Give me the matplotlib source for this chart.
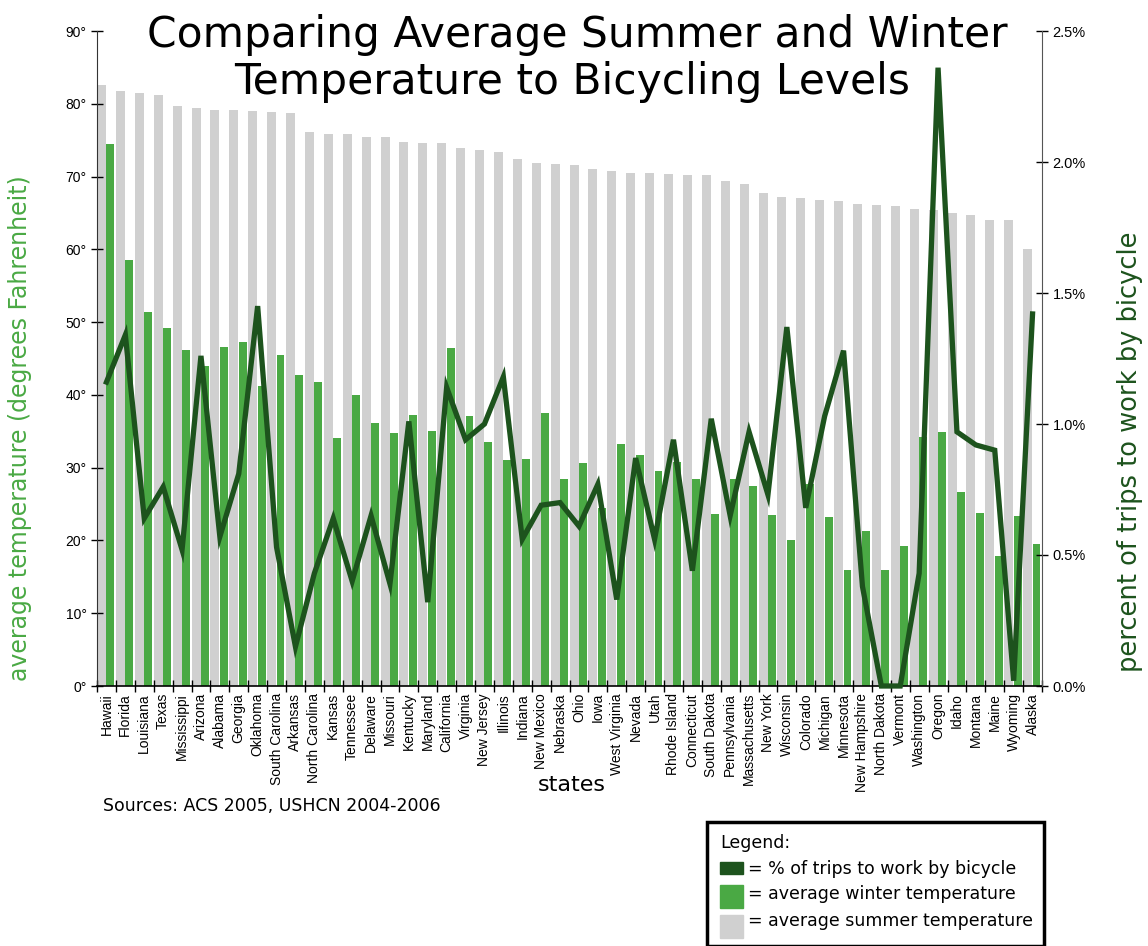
import matplotlib
matplotlib.use("Agg")
import matplotlib.pyplot as plt
from matplotlib.patches import Rectangle
import numpy as np

states = ["Hawaii", "Florida", "Louisiana", "Texas", "Mississippi", "Arizona", "Alabama",
          "Georgia", "Oklahoma", "South Carolina", "Arkansas", "North Carolina", "Kansas",
          "Tennessee", "Delaware", "Missouri", "Kentucky", "Maryland", "California",
          "Virginia", "New Jersey", "Illinois", "Indiana", "New Mexico", "Nebraska", "Ohio",
          "Iowa", "West Virginia", "Nevada", "Utah", "Rhode Island", "Connecticut",
          "South Dakota", "Pennsylvania", "Massachusetts", "New York", "Wisconsin",
          "Colorado", "Michigan", "Minnesota", "New Hampshire", "North Dakota", "Vermont",
          "Washington", "Oregon", "Idaho", "Montana", "Maine", "Wyoming", "Alaska"]

summer_temp = [82.6, 81.7, 81.5, 81.2, 79.7, 79.4, 79.2, 79.2, 79.0, 78.9, 78.7, 76.1, 75.9,
               75.9, 75.4, 75.4, 74.8, 74.6, 74.6, 73.9, 73.6, 73.4, 72.4, 71.9, 71.7, 71.6,
               71.0, 70.8, 70.5, 70.5, 70.3, 70.2, 70.2, 69.4, 69.0, 67.7, 67.2, 67.1, 66.8,
               66.7, 66.2, 66.1, 66.0, 65.6, 65.4, 65.0, 64.7, 64.0, 64.0, 60.1]

winter_temp = [74.5, 58.5, 51.4, 49.2, 46.1, 44.0, 46.6, 47.2, 41.2, 45.5, 42.7, 41.8, 34.1,
               40.0, 36.1, 34.8, 37.3, 35.0, 46.4, 37.1, 33.5, 31.0, 31.2, 37.5, 28.5, 30.7,
               24.5, 33.3, 31.8, 29.6, 30.8, 28.4, 23.7, 28.5, 27.5, 23.5, 20.1, 27.7, 23.2,
               15.9, 21.3, 16.0, 19.3, 34.2, 34.9, 26.7, 23.8, 17.8, 23.4, 19.5]

bike_pct = [1.16, 1.34, 0.64, 0.76, 0.52, 1.26, 0.57, 0.81, 1.45, 0.53, 0.15, 0.43, 0.64,
            0.40, 0.65, 0.39, 1.01, 0.32, 1.14, 0.94, 1.00, 1.18, 0.56, 0.69, 0.70, 0.61,
            0.77, 0.33, 0.87, 0.56, 0.94, 0.44, 1.02, 0.65, 0.97, 0.73, 1.37, 0.68, 1.03,
            1.28, 0.38, 0.0, 0.0, 0.43, 2.36, 0.97, 0.92, 0.90, 0.02, 1.42]

temp_ticks = [0, 10, 20, 30, 40, 50, 60, 70, 80, 90]
pct_ticks = [0.0, 0.5, 1.0, 1.5, 2.0, 2.5]

GRAY = "#d0d0d0"
GREEN = "#4aa944"
DARK = "#1d531d"
TFONT = ["DejaVu Sans"]
LFONT = ["Liberation Sans", "DejaVu Sans"]

fig = plt.figure(figsize=(11.48, 9.46), dpi=100)
ax = fig.add_axes([97/1148, 1-686/946, (1042-97)/1148, (686-31)/946])
x = np.arange(len(states))

ax.bar(x - 0.5, summer_temp, width=0.48, align="edge", color=GRAY, zorder=1)
ax.bar(x, winter_temp, width=0.42, align="edge", color=GREEN, zorder=2)

ax.set_xlim(-0.5, len(states) - 0.5)
ax.set_ylim(0, 90)
ax.set_yticks(temp_ticks)
ax.set_yticklabels([f"{t}°" for t in temp_ticks], fontsize=10, family=LFONT)
ax.set_xticks(x)
ax.set_xticklabels(states, rotation=90, fontsize=10, family=LFONT)
ax.set_xticks(np.arange(len(states) + 1) - 0.5, minor=True)
ax.tick_params(axis="x", which="major", length=0, pad=5)
ax.tick_params(axis="x", which="minor", length=8, direction="inout", width=1)
ax.tick_params(axis="y", length=8, direction="inout", width=1)
for s in ["top", "right"]:
    ax.spines[s].set_visible(False)
ax.spines["left"].set_color("#333333")
ax.spines["bottom"].set_linewidth(1.2)

ax2 = ax.twinx()
ax2.set_ylim(0, 2.5)
ax2.plot(x, bike_pct, color=DARK, lw=3.8, zorder=5, clip_on=False, solid_joinstyle="miter")
ax2.set_yticks(pct_ticks)
ax2.set_yticklabels([f"{t:.1f}%" for t in pct_ticks], fontsize=10.5, family=LFONT)
ax2.tick_params(axis="y", length=8, direction="inout", width=1)
for s in ["top", "left", "bottom"]:
    ax2.spines[s].set_visible(False)
ax2.spines["right"].set_color("#555555")

fig.text(577/1148, 1-35/946, "Comparing Average Summer and Winter", ha="center", va="center",
         fontsize=30.5, family=TFONT, zorder=10)
fig.text(572/1148, 1-82/946, "Temperature to Bicycling Levels", ha="center", va="center",
         fontsize=30.5, family=TFONT, zorder=10)

fig.text(20/1148, 1-428/946, "average temperature (degrees Fahrenheit)", rotation=90,
         ha="center", va="center", fontsize=17, color=GREEN, family=TFONT)
fig.text(1130/1148, 1-452/946, "percent of trips to work by bicycle", rotation=90,
         ha="center", va="center", fontsize=18.5, color=DARK, family=TFONT)
fig.text(572/1148, 1-785/946, "states", ha="center", va="center", fontsize=16, family=TFONT)
fig.text(103/1148, 1-806/946, "Sources: ACS 2005, USHCN 2004-2006", ha="left", va="center",
         fontsize=12.5, family=TFONT)

# legend box
fig.patches.append(Rectangle((707/1148, 1-946/946), (1044-707)/1148, (946-822)/946,
                             transform=fig.transFigure, fill=False, edgecolor="black",
                             linewidth=2.5, clip_on=False))
fig.text(720/1148, 1-843/946, "Legend:", ha="left", va="center", fontsize=12.5, family=TFONT)
items = [(DARK, 862, 874, "= % of trips to work by bicycle", 869),
         (GREEN, 885, 908, "= average winter temperature", 894),
         (GRAY, 915, 938, "= average summer temperature", 921)]
for col, y0, y1, txt, ty in items:
    fig.patches.append(Rectangle((720/1148, 1-y1/946), 23/1148, (y1-y0)/946,
                                 transform=fig.transFigure, color=col))
    fig.text(748/1148, 1-ty/946, txt, ha="left", va="center", fontsize=12.5, family=TFONT)

fig.savefig("out.png", dpi=100)
